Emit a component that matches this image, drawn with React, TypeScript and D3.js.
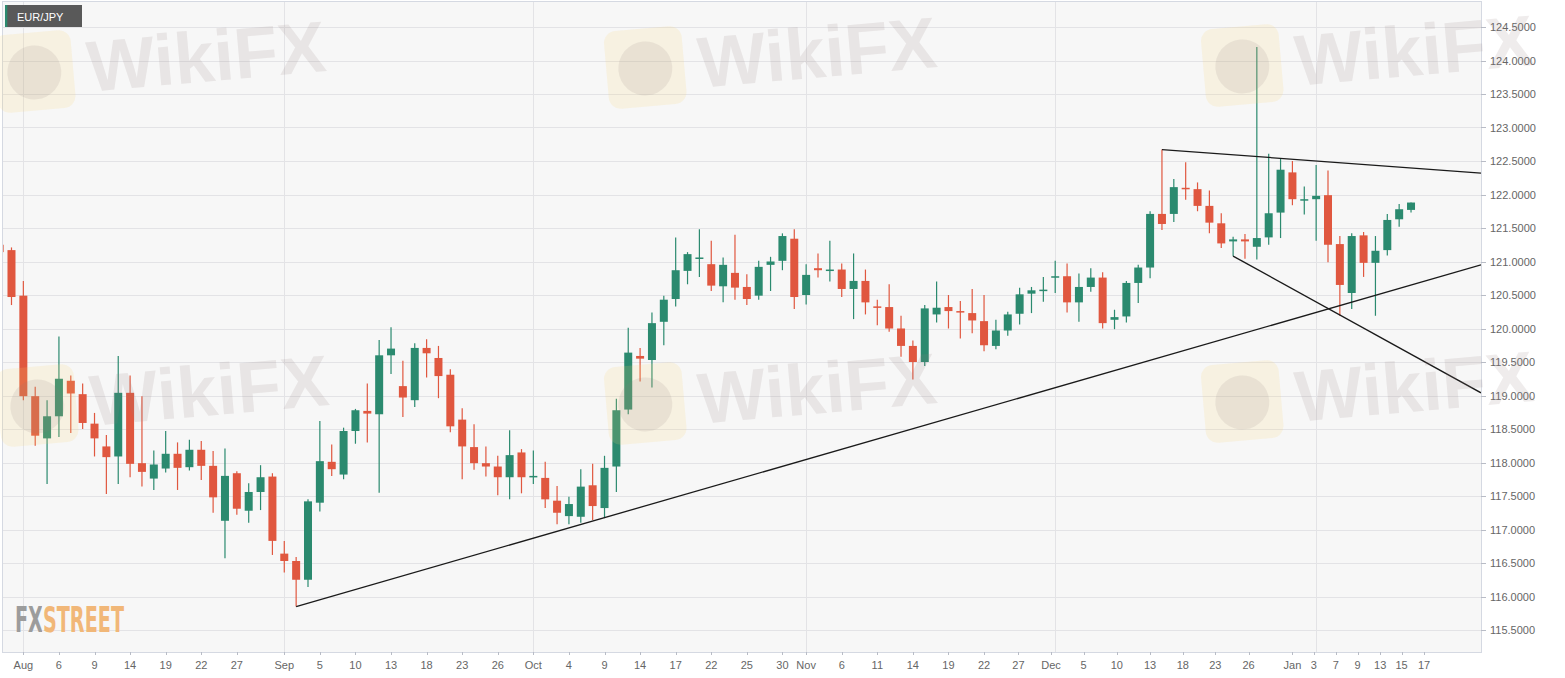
import React from 'react';
import * as d3 from 'd3';

const W = 1565;
const H = 678;
const PLOT = { left: 2, right: 1481, top: 1, bottom: 652 };

// candle index 0 = 1 Aug 2019 (trading days); first visible candle is index -2
const firstIndex = -2;
const opens = [121.25,121.17,120.49,118.99,118.36,118.69,119.22,119.02,118.58,118.24,118.09,119.04,117.99,117.76,117.91,118.13,117.93,118.19,117.95,117.13,117.84,117.28,117.56,117.79,116.64,116.53,116.25,117.40,118.01,117.82,118.47,118.77,118.72,119.60,119.14,118.93,119.71,119.56,119.31,118.64,118.23,117.99,117.94,117.78,118.15,117.79,117.77,117.43,117.20,117.19,117.66,117.32,117.94,118.79,119.59,119.53,120.10,120.44,120.86,121.04,120.96,120.63,120.83,120.62,120.49,120.95,121.01,121.34,120.50,120.90,120.87,120.88,120.59,120.71,120.33,120.32,120.00,119.74,119.50,120.21,120.32,120.26,120.23,120.11,119.74,119.97,120.22,120.52,120.57,120.76,120.78,120.39,120.62,120.76,120.13,120.18,120.68,120.91,121.71,121.71,122.10,122.08,121.83,121.57,121.30,121.33,121.22,121.36,121.73,122.33,121.92,121.93,121.99,121.26,120.53,121.39,120.98,121.17,121.63,121.77];
const highs = [121.38,121.21,120.71,119.13,118.93,119.88,119.30,119.18,118.74,118.41,119.59,119.30,118.99,118.18,118.47,118.30,118.34,118.32,118.17,118.21,117.87,117.69,117.96,117.84,116.83,116.59,117.45,118.62,118.27,118.52,118.80,119.18,119.83,120.02,119.52,119.78,119.84,119.74,119.39,118.81,118.57,118.24,118.10,118.48,118.20,118.18,118.01,117.65,117.49,117.90,117.98,118.10,118.95,120.01,119.71,120.24,120.49,121.36,121.14,121.48,121.31,121.06,121.40,120.81,121.01,121.07,121.42,121.48,120.96,121.12,121.31,120.97,121.12,120.88,120.43,120.66,120.19,119.82,120.35,120.70,120.50,120.41,120.59,120.50,120.13,120.25,120.61,120.62,120.77,121.01,120.97,120.82,120.90,120.84,120.28,120.71,120.95,121.75,122.67,122.23,122.48,122.18,122.06,121.72,121.37,121.41,124.20,122.61,122.54,122.50,122.12,122.44,122.36,121.38,121.42,121.44,121.38,121.71,121.86,121.88];
const lows = [120.90,120.35,118.93,118.25,117.68,118.38,118.44,118.50,118.09,117.53,117.68,117.78,117.64,117.59,117.85,117.59,117.88,117.74,117.25,116.57,117.22,117.10,117.29,116.62,116.36,115.85,116.14,117.27,117.80,117.75,118.28,118.30,117.55,119.32,118.68,118.83,119.27,118.96,118.45,117.75,117.89,117.79,117.51,117.45,117.54,117.68,117.32,117.08,117.08,117.10,117.14,117.17,117.56,118.72,119.21,119.12,119.75,120.33,120.66,120.77,120.56,120.39,120.43,120.35,120.43,120.56,120.87,120.29,120.36,120.76,120.70,120.47,120.14,120.21,120.05,119.95,119.58,119.24,119.44,120.09,120.00,119.85,119.93,119.66,119.69,119.89,120.06,120.23,120.40,120.53,120.24,120.10,120.55,120.00,119.99,120.09,120.38,120.75,121.47,121.59,121.92,121.75,121.42,121.20,121.08,121.04,121.03,121.25,121.35,121.84,121.70,121.31,120.99,120.19,120.29,120.77,120.19,121.09,121.52,121.73];
const closes = [121.14,120.47,118.99,118.40,118.69,119.25,119.03,118.59,118.36,118.08,119.04,117.98,117.86,117.97,118.13,117.92,118.19,117.95,117.48,117.80,117.31,117.56,117.78,116.83,116.53,116.25,117.42,118.02,117.90,118.47,118.78,118.73,119.60,119.70,118.97,119.71,119.63,119.29,118.54,118.24,117.99,117.94,117.78,118.11,117.78,117.80,117.45,117.25,117.38,117.64,117.35,117.92,118.78,119.64,119.55,120.08,120.43,120.87,121.11,121.06,120.64,120.95,120.61,120.44,120.92,121.00,121.38,120.47,120.80,120.87,120.88,120.59,120.71,120.39,120.31,120.00,119.74,119.50,120.30,120.31,120.26,120.24,120.12,119.75,119.97,120.21,120.51,120.57,120.58,120.78,120.39,120.62,120.76,120.08,120.17,120.68,120.91,121.71,121.56,122.11,122.08,121.83,121.58,121.27,121.33,121.30,121.35,121.72,122.37,121.93,121.93,121.98,121.25,120.65,121.38,120.98,121.16,121.62,121.78,121.88];

// x-axis tick labels and their positions in candle-index units
const tickLabels = ['Aug','6','9','14','19','22','27','Sep','5','10','13','18','23','26','Oct','4','9','14','17','22','25','30','Nov','6','11','14','19','22','27','Dec','5','10','13','18','23','26','Jan','3','7','9','13','15','17'];
const tickIndex = [0,3,6,9,12,15,18,22,25,28,31,34,37,40,43,46,49,52,55,58,61,64,66,69,72,75,78,81,83.9,86.65,89.4,92.2,95,97.76,100.5,103.3,107,108.8,110.66,112.5,114.4,116.2,118.1];
// month starts (candle index) for vertical grid lines
const monthStartIndex = [0,22,43,66,87,109];

// trend lines: [index, price] pairs
const trendLines = [
  [[23, 115.85], [122.9, 120.95]],
  [[96, 122.67], [122.9, 122.32]],
  [[102, 121.08], [122.9, 119.04]],
];

const yTicks = d3.range(0, 19).map((k) => 115.5 + k * 0.5);

const GREEN = '#2b8a6f';
const RED = '#e0573f';
const FONT = "'Liberation Sans', Arial, sans-serif";

const watermarkSpots = [
  { x: -8, y: 36 }, { x: 603, y: 32 }, { x: 1200, y: 30 },
  { x: -5, y: 370 }, { x: 603, y: 368 }, { x: 1200, y: 366 },
];

function Watermark({ x, y }: { x: number; y: number }) {
  return (
    <g transform={`translate(${x},${y}) rotate(-5)`} pointerEvents="none">
      <rect x={0} y={0} width={78} height={78} rx={12} fill="rgba(250,212,110,0.16)" />
      <circle cx={39} cy={40} r={27} fill="rgba(140,120,120,0.13)" />
      <text x={92} y={64} fontFamily={FONT} fontWeight="bold" fontSize={72} fill="rgba(150,125,125,0.15)">WikiFX</text>
    </g>
  );
}

export default function App() {
  const x = d3.scaleLinear().domain([-1.8, 122.9]).range([PLOT.left, PLOT.right]);
  const y = d3.scaleLinear().domain([115.5, 124.5]).range([630, 27]);
  const bodyW = 8;

  const candles = opens.map((o, k) => ({
    i: firstIndex + k, o, h: highs[k], l: lows[k], c: closes[k],
  }));

  const line = d3.line<number[]>().x((d) => x(d[0])).y((d) => y(d[1]));

  return (
    <svg width={W} height={H} style={{ position: 'absolute', left: 0, top: 0, background: '#ffffff' }}>
      <defs>
        <clipPath id="plotClip">
          <rect x={PLOT.left} y={PLOT.top} width={PLOT.right - PLOT.left} height={PLOT.bottom - PLOT.top} />
        </clipPath>
        <linearGradient id="fxGrad" gradientUnits="userSpaceOnUse" x1={15} x2={124} y1={0} y2={0}>
          <stop offset="0.248" stopColor="#9c9c9c" />
          <stop offset="0.248" stopColor="#f1b778" />
        </linearGradient>
      </defs>
      <rect x={PLOT.left} y={PLOT.top} width={PLOT.right - PLOT.left} height={PLOT.bottom - PLOT.top} fill="#f7f7f7" />
      {/* grid */}
      <g stroke="#e3e3e6" strokeWidth={1}>
        {yTicks.map((t) => (
          <line key={t} x1={PLOT.left} x2={PLOT.right} y1={Math.round(y(t)) + 0.5} y2={Math.round(y(t)) + 0.5} />
        ))}
        {monthStartIndex.map((m) => (
          <line key={m} x1={Math.round(x(m)) + 0.5} x2={Math.round(x(m)) + 0.5} y1={PLOT.top} y2={PLOT.bottom} />
        ))}
      </g>
      {/* candles */}
      <g clipPath="url(#plotClip)">
        {candles.map((d) => {
          const up = d.c >= d.o;
          const col = up ? GREEN : RED;
          const cx = x(d.i);
          const top = y(Math.max(d.o, d.c));
          const bot = y(Math.min(d.o, d.c));
          return (
            <g key={d.i}>
              <line x1={cx} x2={cx} y1={y(d.h)} y2={y(d.l)} stroke={col} strokeWidth={1.2} />
              <rect x={cx - bodyW / 2} y={top} width={bodyW} height={Math.max(1.5, bot - top)} fill={col} />
            </g>
          );
        })}
        {trendLines.map((pts, k) => (
          <path key={k} d={line(pts) || ''} fill="none" stroke="#1a1a1a" strokeWidth={1.3} />
        ))}
      </g>
      {/* plot frame */}
      <rect x={PLOT.left + 0.5} y={PLOT.top + 0.5} width={PLOT.right - PLOT.left} height={PLOT.bottom - PLOT.top} fill="none" stroke="#d5d9e2" strokeWidth={1} />
      {/* right axis */}
      <g fontFamily={FONT} fontSize={11} fill="#666">
        {yTicks.map((t) => (
          <g key={t}>
            <line x1={PLOT.right} x2={PLOT.right + 5} y1={Math.round(y(t)) + 0.5} y2={Math.round(y(t)) + 0.5} stroke="#b8bcc6" />
            <text x={PLOT.right + 9} y={y(t) + 4}>{d3.format('.4f')(t)}</text>
          </g>
        ))}
      </g>
      {/* bottom axis */}
      <g fontFamily={FONT} fontSize={11} fill="#666">
        {tickLabels.map((lab, k) => (
          <g key={k}>
            <line x1={Math.round(x(tickIndex[k])) + 0.5} x2={Math.round(x(tickIndex[k])) + 0.5} y1={PLOT.bottom} y2={PLOT.bottom + 3} stroke="#b8bcc6" />
            <text x={x(tickIndex[k])} y={668.5} textAnchor="middle">{lab}</text>
          </g>
        ))}
      </g>
      {/* watermarks */}
      {watermarkSpots.map((p, k) => <Watermark key={k} x={p.x} y={p.y} />)}
      {/* instrument label */}
      <g>
        <rect x={5} y={5} width={77} height={22} fill="#595959" />
        <rect x={5} y={5} width={2.3} height={22} fill={GREEN} />
        <text x={17} y={20.5} fontFamily={FONT} fontSize={11} fill="#ffffff">EUR/JPY</text>
      </g>
      {/* FXSTREET logo */}
      <text x={15} y={632} fontFamily="'DejaVu Sans Condensed', 'DejaVu Sans', sans-serif" fontWeight="bold" fontSize={35} textLength={109} lengthAdjust="spacingAndGlyphs" fill="url(#fxGrad)">FXSTREET</text>
    </svg>
  );
}
